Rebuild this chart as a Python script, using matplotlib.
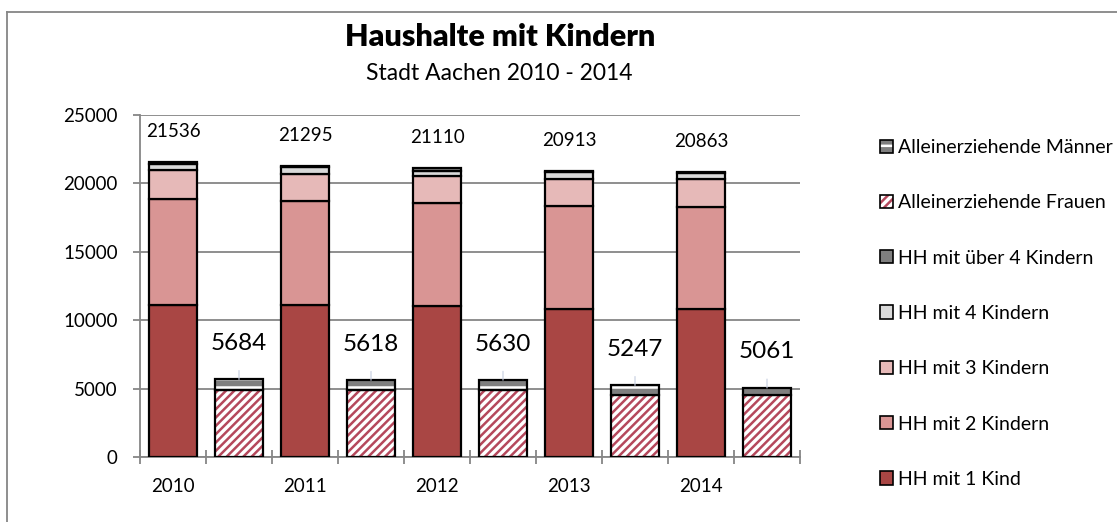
import matplotlib
matplotlib.use('Agg')
import matplotlib.pyplot as plt
from matplotlib.patches import Patch
import numpy as np

# category slots: stacked bar for each year, then single-parent bar
years = ['2010', '2011', '2012', '2013', '2014']
hh_1 = [11150, 11100, 11030, 10860, 10860]
hh_2 = [7740, 7610, 7510, 7490, 7410]
hh_3 = [2090, 2010, 2000, 2000, 2030]
hh_4 = [420, 480, 400, 490, 440]
hh_over4 = [136, 95, 170, 73, 123]
frauen = [4930, 4880, 4930, 4580, 4540]
maenner = [754, 738, 700, 667, 521]

c1 = '#A94644'
c2 = '#D99594'
c3 = '#E6B9B8'
c4 = '#D9D9D9'
c5 = '#7F7F7F'
c_hatch = '#B5485C'
grey = '#868686'

plt.rcParams['font.family'] = ['Lato', 'DejaVu Sans']
plt.rcParams['hatch.linewidth'] = 1.8

fig = plt.figure(figsize=(11.17, 5.22), dpi=100)
ax = fig.add_axes([140/1117, 1-457.3/522, 660/1117, (457.3-115)/522])

xs = np.arange(len(years)) * 2
xa = xs + 1
w = 0.73
ek = dict(edgecolor='black', linewidth=1.6, zorder=3)

bottom = np.zeros(len(years))
for vals, col in [(hh_1, c1), (hh_2, c2), (hh_3, c3), (hh_4, c4), (hh_over4, c5)]:
    ax.bar(xs, vals, w, bottom=bottom, color=col, **ek)
    bottom += np.array(vals)
totals = bottom

# single parents: hatched fill drawn first, black outline on top
ax.bar(xa, frauen, w, color='white', edgecolor=c_hatch, hatch='////', linewidth=0, zorder=3)
ax.bar(xa, frauen, w, fill=False, **ek)
ax.bar(xa, maenner, w, bottom=frauen, color=c5, edgecolor='white', hatch='--', linewidth=0, zorder=3)
ax.bar(xa, maenner, w, bottom=frauen, fill=False, **ek)
totals_a = np.array(frauen) + np.array(maenner)

for x, t in zip(xs, totals):
    ax.annotate(f'{int(t)}', (x, t), xytext=(0, 22), textcoords='offset points',
                ha='center', va='center', fontsize=13.5)
for x, t in zip(xa, totals_a):
    ax.annotate(f'{int(t)}', (x, t), xytext=(0, 26), textcoords='offset points',
                ha='center', va='center', fontsize=17.5,
                arrowprops=dict(arrowstyle='-', color='#c5cde0', lw=0.8,
                                shrinkA=10, shrinkB=0))

ax.set_xlim(-0.5, 9.5)
ax.set_ylim(0, 25000)
ax.set_yticks(np.arange(0, 25001, 5000))
ax.set_xticks(xs)
ax.set_xticklabels(years)
ax.set_xticks(np.arange(-0.5, 10, 1), minor=True)
ax.tick_params(axis='x', which='major', length=0, pad=15, labelsize=13.5)
ax.tick_params(axis='x', which='minor', length=10, direction='inout', color=grey, width=1.3)
ax.tick_params(axis='y', length=5, color=grey, width=1.3, labelsize=13.5, pad=11)
ax.yaxis.grid(True, color=grey, linewidth=1.3, zorder=0)
ax.set_axisbelow(True)
for s in ['top', 'right']:
    ax.spines[s].set_visible(False)
for s in ['left', 'bottom']:
    ax.spines[s].set_color(grey)
    ax.spines[s].set_linewidth(1.3)

fig.text(500/1117, 1-37/522, 'Haushalte mit Kindern', ha='center', va='center',
         fontsize=22, fontweight='heavy')
fig.text(499/1117, 1-74/522, 'Stadt Aachen 2010 - 2014', ha='center', va='center', fontsize=16.5)

# legend (top entry = last series)
h_m = (Patch(facecolor=c5, edgecolor='white', hatch='--', linewidth=0),
       Patch(fill=False, edgecolor='black', linewidth=1.2))
h_f = (Patch(facecolor='white', edgecolor=c_hatch, hatch='////', linewidth=0),
       Patch(fill=False, edgecolor='black', linewidth=1.2))
handles = [h_m, h_f]
for col in [c5, c4, c3, c2, c1]:
    handles.append(Patch(facecolor=col, edgecolor='black', linewidth=1.2))
labels = ['Alleinerziehende Männer', 'Alleinerziehende Frauen', 'HH mit über 4 Kindern',
          'HH mit 4 Kindern', 'HH mit 3 Kindern', 'HH mit 2 Kindern', 'HH mit 1 Kind']
fig.legend(handles, labels, loc='upper left', bbox_to_anchor=(880/1117, 1-139/522),
           frameon=False, fontsize=14, labelspacing=1.97, handlelength=0.68,
           handleheight=0.68, handletextpad=0.25, borderaxespad=0, borderpad=0)

# outer chart frame
fig.add_artist(plt.Line2D([7/1117, 7/1117], [0, 1-12/522], transform=fig.transFigure,
                          color=grey, linewidth=1.3))
fig.add_artist(plt.Line2D([7/1117, 1], [1-12/522, 1-12/522], transform=fig.transFigure,
                          color=grey, linewidth=1.3))

fig.savefig('out.png', dpi=100)
